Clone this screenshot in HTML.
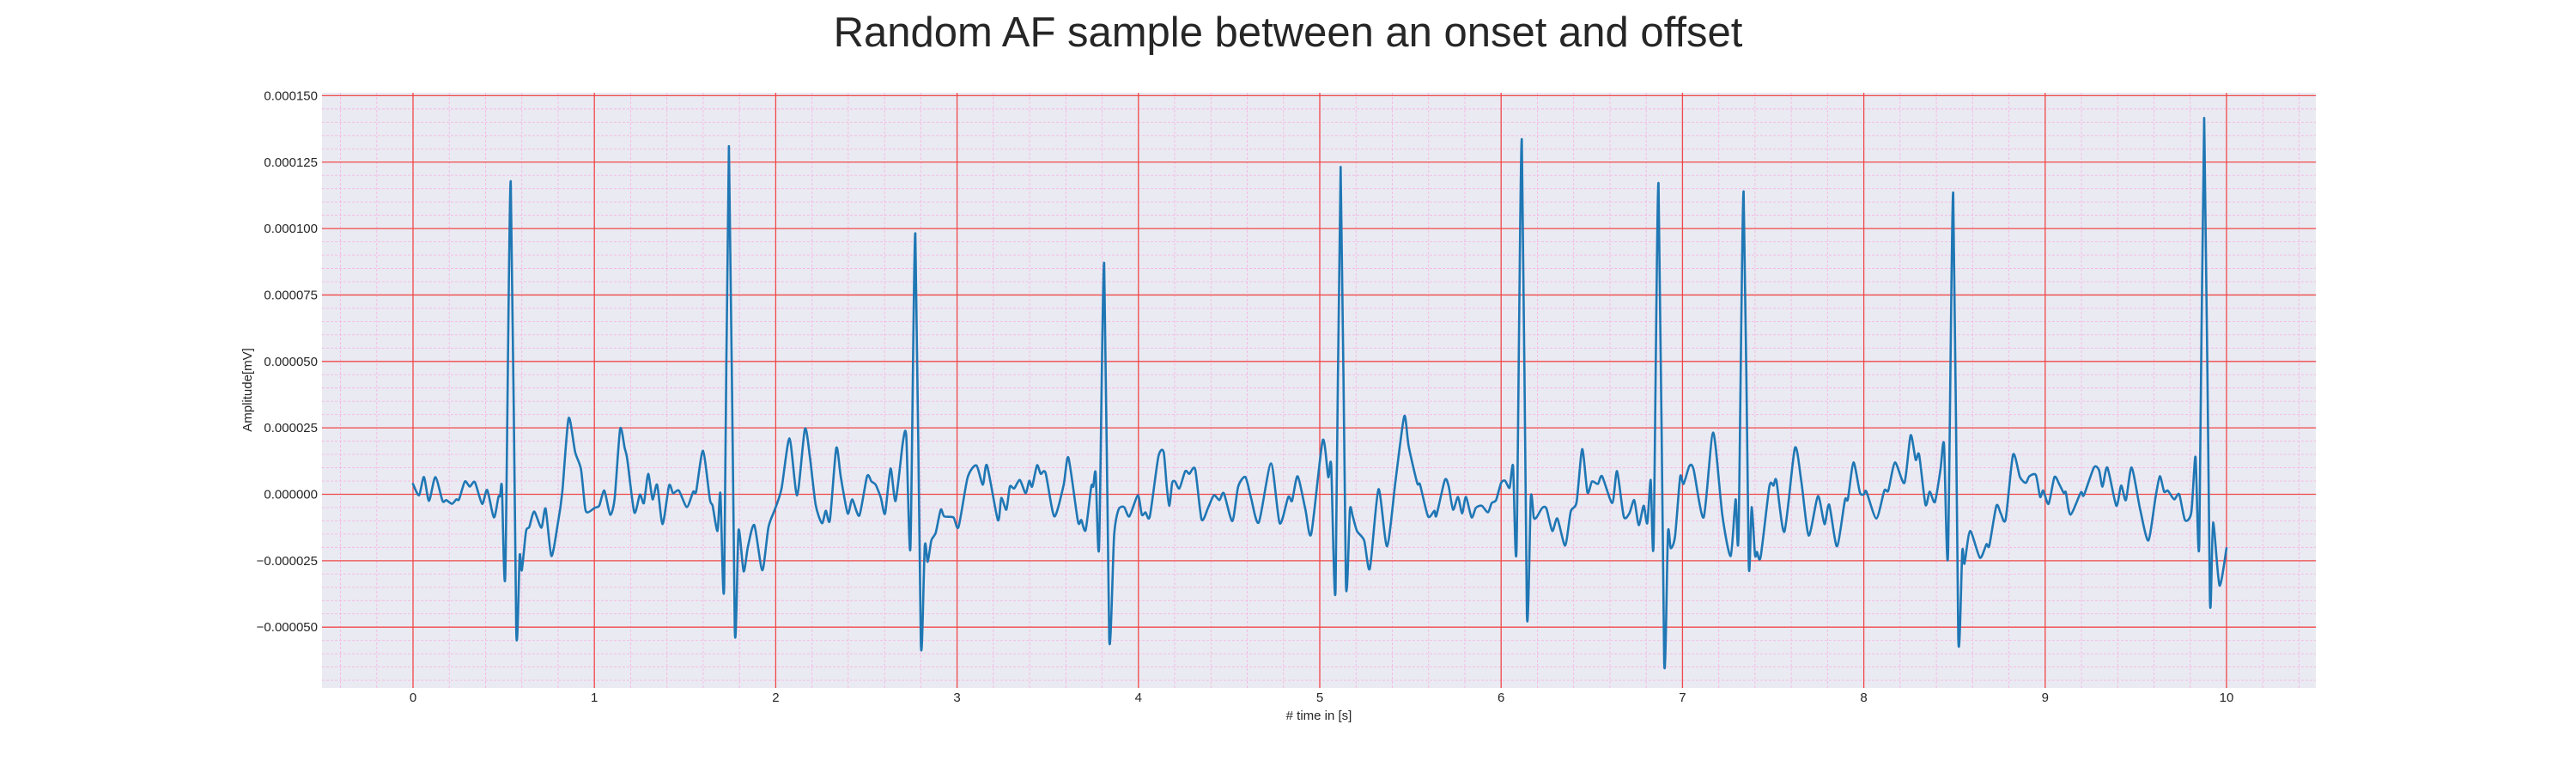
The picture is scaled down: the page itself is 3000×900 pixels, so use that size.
<!DOCTYPE html>
<html><head><meta charset="utf-8"><style>
html,body{margin:0;padding:0;background:#fff;}
svg{display:block;font-family:"Liberation Sans",Arial,sans-serif;}
</style></head><body>
<svg id="chart" width="3000" height="900" viewBox="0 0 3000 900" xmlns="http://www.w3.org/2000/svg">
<text x="1500" y="54" text-anchor="middle" font-size="49" fill="#262626">Random AF sample between an onset and offset</text>
<rect x="375" y="108" width="2322" height="693" fill="#EAEAF2"/>
<g id="grid"></g>
<g id="ticks"></g>
<text x="1536" y="838" text-anchor="middle" font-size="15" fill="#262626"># time in [s]</text>
<text x="0" y="0" transform="translate(293,454) rotate(-90)" text-anchor="middle" font-size="15" fill="#262626">Amplitude[mV]</text>
<g id="series"></g>
</svg>
<script>
// data (values in 1e-6 mV)
const times = [0.0,0.033,0.06,0.088,0.123,0.163,0.183,0.215,0.239,0.254,0.286,0.313,0.341,0.381,0.409,0.446,0.471,0.48,0.49,0.509,0.539,0.569,0.588,0.6,0.623,0.641,0.668,0.708,0.731,0.763,0.799,0.823,0.858,0.894,0.926,0.949,0.965,1.002,1.027,1.055,1.087,1.112,1.142,1.167,1.182,1.22,1.251,1.273,1.297,1.321,1.346,1.376,1.412,1.434,1.466,1.51,1.545,1.561,1.599,1.637,1.652,1.679,1.695,1.716,1.742,1.774,1.795,1.823,1.847,1.882,1.926,1.96,1.997,2.032,2.076,2.118,
2.161,2.189,2.22,2.255,2.276,2.299,2.334,2.359,2.397,2.422,2.461,2.504,2.528,2.551,2.58,2.603,2.633,2.661,2.701,2.72,2.743,2.77,2.8,2.822,2.838,2.858,2.882,2.91,2.929,2.98,3.008,3.058,3.106,3.142,3.165,3.225,3.244,3.272,3.291,3.315,3.346,3.378,3.398,3.414,3.441,3.461,3.488,3.536,3.587,3.614,3.666,3.685,3.709,3.74,3.751,3.764,3.783,3.811,3.839,3.866,3.89,3.921,3.95,3.997,4.019,4.039,4.063,4.11,4.139,4.157,
4.171,4.186,4.202,4.226,4.258,4.281,4.313,4.348,4.384,4.416,4.447,4.471,4.518,4.55,4.59,4.621,4.664,4.731,4.779,4.826,4.847,4.878,4.921,4.953,5.016,5.047,5.063,5.087,5.115,5.144,5.166,5.182,5.205,5.245,5.276,5.324,5.371,5.419,5.466,5.49,5.537,5.553,5.597,5.632,5.643,5.69,5.711,5.735,5.762,5.785,5.806,5.837,5.861,5.893,5.927,5.948,5.972,6.0,6.022,6.047,6.066,6.085,6.114,6.142,6.164,6.18,
6.195,6.227,6.25,6.282,6.31,6.353,6.384,6.416,6.447,6.476,6.501,6.534,6.557,6.613,6.639,6.676,6.707,6.734,6.759,6.786,6.806,6.825,6.841,6.868,6.899,6.92,6.935,6.959,6.987,7.006,7.038,7.061,7.117,7.169,7.22,7.266,7.293,7.309,7.337,7.365,7.381,7.4,7.411,7.431,7.479,7.502,7.518,7.562,7.62,7.655,7.696,7.747,7.783,7.809,7.852,7.896,7.912,7.943,7.978,8.0,8.014,8.069,8.113,8.135,8.172,8.224,
8.258,8.286,8.305,8.34,8.363,8.392,8.423,8.442,8.464,8.493,8.521,8.543,8.555,8.586,8.64,8.676,8.692,8.731,8.755,8.782,8.823,8.861,8.893,8.913,8.949,8.972,8.989,9.019,9.051,9.079,9.103,9.114,9.139,9.197,9.213,9.269,9.297,9.316,9.343,9.392,9.419,9.445,9.477,9.524,9.569,9.608,9.632,9.656,9.676,9.711,9.739,9.771,9.806,9.829,9.85,9.877,9.908,9.926,9.961,10.0];
const amplitudes = [3.9,-0.4,6.5,-2.5,6.5,-2.5,-2.2,-3.6,-1.9,-1.9,4.8,2.9,4.6,-3.6,1.6,-8.7,-1.0,-0.7,2.9,-30,117.8,-51,-23,-28.6,-14,-12.3,-6.5,-12.6,-5.4,-23.2,-10.9,0.7,28.6,15.9,9.4,-5.1,-6.8,-5.1,-4.3,1.4,-7.7,-1.4,24.6,17.4,13,-6.8,-0.1,-3.3,7.7,-1.9,3.6,-11.2,3.3,0.4,1.4,-4.8,1.0,1.0,16.4,-1.9,-4.3,-13.8,0.4,-34.3,131,-50.4,-13.5,-29,-19.6,-11.6,-28.6,-12.3,-5.4,2.2,21,-0.4,
24.6,13.8,-3.9,-10.9,-6.2,-9.7,17.4,6.5,-7.2,-1.9,-8.0,6.8,4.8,3.6,-1.4,-7.2,9.7,-2.5,19.6,21.7,-19.9,98.1,-56.1,-19.3,-25.4,-17.4,-14.5,-5.8,-8.3,-8.7,-12.3,6.2,10.9,3.6,10.9,-9.7,-1.4,-5.8,2.9,2.2,5.4,0.4,5.1,2.9,10.9,7.7,8.0,-8.3,3.3,13.8,-10.1,-9.7,-13.5,2.9,2.9,8.0,-19.9,87,-54.3,-15.5,-5.8,-4.8,-8.3,-0.4,-7.7,-6.8,-8.3,14.1,15.9,2.2,
-4.3,4.3,4.8,2.2,8.7,7.7,9.4,-9.4,-5.1,-0.4,-2.2,0.4,-10.1,2.9,6.5,-1.4,-10.6,11.6,-10.9,-1.0,-2.5,6.8,-5.8,-14.9,20.3,6.5,10.9,-35.8,123.2,-32.9,-5.8,-8.3,-13.8,-17.4,-28,1.9,-19.6,5.8,29.4,18.1,4.3,3.6,-8.3,-6.2,-8.0,5.4,2.9,-5.8,-1.0,-7.2,-1.0,-8.7,-5.1,-4.3,-6.8,-3.3,-2.2,4.3,5.1,2.5,10.6,-20.3,133.6,-44.9,-1.0,-8.7,
-8.7,-5.1,-5.4,-13.8,-9.1,-19.3,-6.5,-2.9,17,0.7,4.8,3.9,6.8,-3.3,8.7,-8.3,-7.2,-2.2,-11.6,-4.3,-10.9,5.4,-18.4,117,-62.8,-14.5,-20.3,-15.9,6.5,3.9,10.6,9.4,-8.7,23.2,-8.0,-23.2,-1.9,-15.5,114,-25.4,-4.8,-22.8,-21.7,-23.6,2.9,3.3,5.1,-14.1,17.4,5.1,-15.5,-0.7,-11.2,-3.9,-19.6,-2.2,-1.9,12,0.7,0,1.0,-9.1,1.4,1.4,12,4.3,
22.2,13,14.9,-3.9,1.0,-2.9,9.4,18.8,-23.2,113.5,-53.9,-21.3,-26.1,-13.8,-23.9,-18.8,-19.3,-4.3,-7.2,-9.4,14.9,6.5,4.3,6.8,7.2,-1.0,1.4,-3.6,6.5,3.6,0.4,0.7,-7.7,0.7,-0.4,10.1,9.1,2.9,10.1,-4.3,3.3,-2.2,10.1,-5.8,-17.4,-1.4,6.8,1.0,1.4,-1.9,0,-9.7,-6.8,14.1,-18.4,141.6,-38.4,-10.6,-34.3,-20.3];
const xTicks = [0,1,2,3,4,5,6,7,8,9,10];
const yTicks = [-50,-25,0,25,50,75,100,125,150];
const yTickLabels = ["\u22120.000050","\u22120.000025","0.000000","0.000025","0.000050","0.000075","0.000100","0.000125","0.000150"];

const NS = "http://www.w3.org/2000/svg";
const X0 = 481, PXS = 211.2, Y0 = 575.5, PXU = 3.094;
const L = 375, R = 2697, T = 108, B = 801;
function sx(t){ return X0 + t*PXS; }
function sy(v){ return Y0 - v*PXU; }
function mk(tag, attrs, parent){ const e=document.createElementNS(NS,tag); for(const k in attrs) e.setAttribute(k,attrs[k]); parent.appendChild(e); return e; }

const grid = document.getElementById('grid');
for(let i=-2;i<=52;i++){ const t=i*0.2; const x=sx(t); if(x<L||x>R) continue; if(i%5===0) continue;
  const l=mk('line',{x1:x,x2:x,y1:T,y2:B,stroke:'#f5b8e2','stroke-width':0.9,'stroke-dasharray':'3,2'},grid);
  
  
}
for(let i=-15;i<=31;i++){ const v=i*5; const y=sy(v); if(y<T||y>B) continue; if(i%5===0) continue;
  const l=mk('line',{x1:L,x2:R,y1:y,y2:y,stroke:'#f5b8e2','stroke-width':0.9,'stroke-dasharray':'3,2'},grid);
  
  
}
const ticks = document.getElementById('ticks');
xTicks.forEach(t=>{ const x=sx(t);
  const l=mk('line',{x1:x,x2:x,y1:T,y2:B,stroke:'#f04848','stroke-width':1.3},grid);
  
  
  const tx=mk('text',{x:x,y:817,'text-anchor':'middle','font-size':15,fill:'#262626'},ticks);
  tx.textContent=String(t);
  
  
});
yTicks.forEach((v,i)=>{ const y=sy(v);
  const l=mk('line',{x1:L,x2:R,y1:y,y2:y,stroke:'#f04848','stroke-width':1.3},grid);
  
  
  const tx=mk('text',{x:370,y:y+5,'text-anchor':'end','font-size':15,fill:'#262626'},ticks);
  tx.textContent=yTickLabels[i];
  
  
});
const series=document.getElementById('series');
const P = times.map((t,i)=>[sx(t), sy(amplitudes[i])]);
let d='M'+P[0][0].toFixed(1)+','+P[0][1].toFixed(1);
const k=0.12;
for(let i=0;i<P.length-1;i++){
  const p0=P[Math.max(0,i-1)], p1=P[i], p2=P[i+1], p3=P[Math.min(P.length-1,i+2)];
  const c1x=p1[0]+(p2[0]-p0[0])*k, c1y=p1[1]+(p2[1]-p0[1])*k;
  const c2x=p2[0]-(p3[0]-p1[0])*k, c2y=p2[1]-(p3[1]-p1[1])*k;
  d+='C'+c1x.toFixed(1)+','+c1y.toFixed(1)+' '+c2x.toFixed(1)+','+c2y.toFixed(1)+' '+p2[0].toFixed(1)+','+p2[1].toFixed(1);
}
const p=mk('path',{d:d,fill:'none',stroke:'#1f77b4','stroke-width':2.6,'stroke-linejoin':'round','stroke-linecap':'round'},series);


</script>
</body></html>
